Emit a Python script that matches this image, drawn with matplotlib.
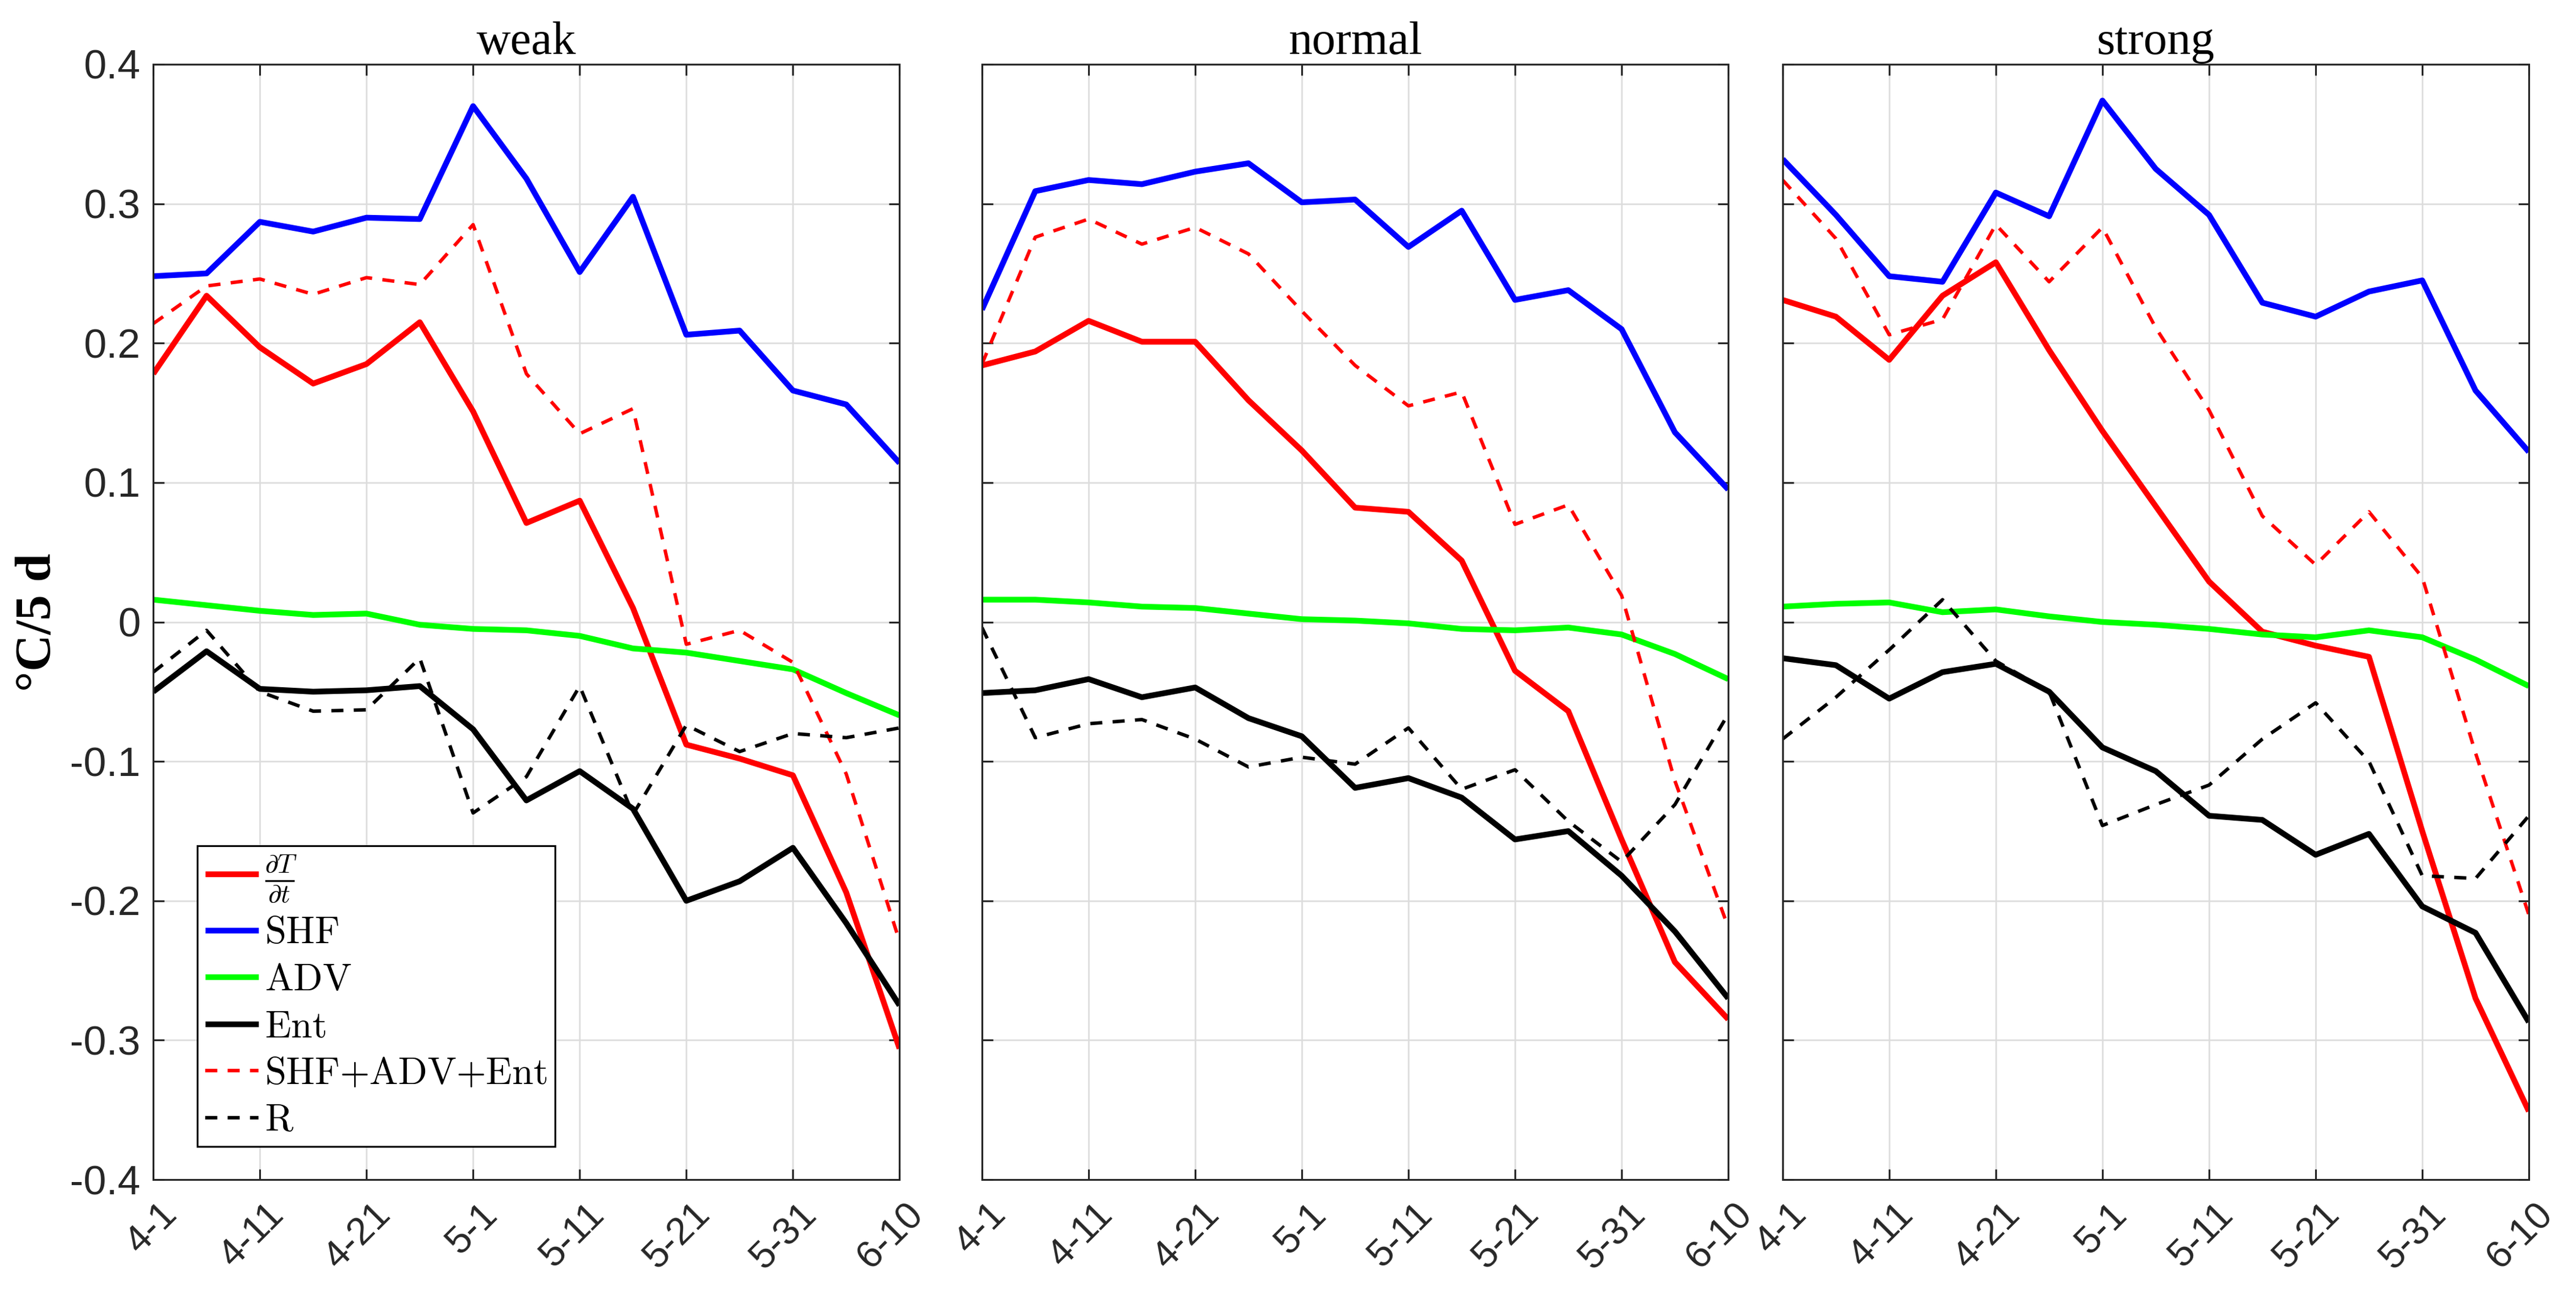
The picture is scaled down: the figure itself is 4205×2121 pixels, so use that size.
import numpy as np
import matplotlib.pyplot as plt
from matplotlib.transforms import ScaledTranslation

# dates of the 5-day means
dates = ['4-1', '4-6', '4-11', '4-16', '4-21', '4-26', '5-1', '5-6',
         '5-11', '5-16', '5-21', '5-26', '5-31', '6-5', '6-10']

panels = ['weak', 'normal', 'strong']

# ---------------- weak ----------------
weak_dTdt = [0.178, 0.234, 0.197, 0.171, 0.185, 0.215, 0.151, 0.071, 0.087, 0.010,
             -0.088, -0.098, -0.110, -0.194, -0.306]
weak_shf = [0.248, 0.250, 0.287, 0.280, 0.290, 0.289, 0.370, 0.318, 0.251, 0.305,
            0.206, 0.209, 0.166, 0.156, 0.114]
weak_adv = [0.016, 0.012, 0.008, 0.005, 0.006, -0.002, -0.005, -0.006, -0.010, -0.019,
            -0.022, -0.028, -0.034, -0.051, -0.067]
weak_ent = [-0.050, -0.021, -0.048, -0.050, -0.049, -0.046, -0.077, -0.128, -0.107, -0.134,
            -0.200, -0.186, -0.162, -0.216, -0.275]
weak_sum = [0.214, 0.241, 0.246, 0.235, 0.247, 0.242, 0.285, 0.178, 0.135, 0.153,
            -0.016, -0.006, -0.029, -0.109, -0.229]
weak_r = [-0.036, -0.006, -0.050, -0.064, -0.063, -0.026, -0.137, -0.111, -0.046, -0.138,
          -0.074, -0.093, -0.080, -0.083, -0.076]

# ---------------- normal ----------------
normal_dTdt = [0.184, 0.194, 0.216, 0.201, 0.201, 0.159, 0.123, 0.082, 0.079, 0.044,
               -0.035, -0.064, -0.156, -0.244, -0.285]
normal_shf = [0.224, 0.309, 0.317, 0.314, 0.323, 0.329, 0.301, 0.303, 0.269, 0.295,
              0.231, 0.238, 0.210, 0.136, 0.095]
normal_adv = [0.016, 0.016, 0.014, 0.011, 0.010, 0.006, 0.002, 0.001, -0.001, -0.005,
              -0.006, -0.004, -0.009, -0.023, -0.041]
normal_ent = [-0.051, -0.049, -0.041, -0.054, -0.047, -0.069, -0.082, -0.119, -0.112, -0.126,
              -0.156, -0.150, -0.182, -0.222, -0.270]
normal_sum = [0.185, 0.276, 0.289, 0.271, 0.283, 0.264, 0.223, 0.184, 0.155, 0.165,
              0.070, 0.084, 0.019, -0.114, -0.219]
normal_r = [-0.004, -0.083, -0.073, -0.070, -0.084, -0.104, -0.097, -0.102, -0.076, -0.120,
            -0.106, -0.143, -0.172, -0.131, -0.066]

# ---------------- strong ----------------
strong_dTdt = [0.231, 0.219, 0.188, 0.234, 0.258, 0.195, 0.137, 0.083, 0.029, -0.007,
               -0.017, -0.025, -0.150, -0.270, -0.351]
strong_shf = [0.332, 0.292, 0.248, 0.244, 0.308, 0.291, 0.374, 0.325, 0.292, 0.229,
              0.219, 0.237, 0.245, 0.166, 0.122]
strong_adv = [0.011, 0.013, 0.014, 0.007, 0.009, 0.004, 0.000, -0.002, -0.005, -0.009,
              -0.011, -0.006, -0.011, -0.027, -0.046]
strong_ent = [-0.026, -0.031, -0.055, -0.036, -0.030, -0.050, -0.090, -0.107, -0.139, -0.142,
              -0.167, -0.152, -0.204, -0.223, -0.287]
strong_sum = [0.317, 0.275, 0.206, 0.217, 0.285, 0.244, 0.283, 0.211, 0.152, 0.076,
              0.041, 0.079, 0.032, -0.094, -0.210]
strong_r = [-0.084, -0.054, -0.020, 0.016, -0.028, -0.050, -0.146, -0.131, -0.117, -0.084,
            -0.058, -0.100, -0.182, -0.184, -0.139]

data = {
    'weak': [weak_dTdt, weak_shf, weak_adv, weak_ent, weak_sum, weak_r],
    'normal': [normal_dTdt, normal_shf, normal_adv, normal_ent, normal_sum, normal_r],
    'strong': [strong_dTdt, strong_shf, strong_adv, strong_ent, strong_sum, strong_r],
}

labels = [r'$\frac{\partial T}{\partial t}$', r'$\mathrm{SHF}$', r'$\mathrm{ADV}$',
          r'$\mathrm{Ent}$', r'$\mathrm{SHF{+}ADV{+}Ent}$', r'$\mathrm{R}$']
colors = ['#ff0000', '#0000ff', '#00ff00', '#000000', '#ff0000', '#000000']
styles = ['-', '-', '-', '-', '--', '--']
widths = [2.25, 2.25, 2.25, 2.25, 1.35, 1.35]

yticks = [-0.4, -0.3, -0.2, -0.1, 0, 0.1, 0.2, 0.3, 0.4]
ytick_labels = ['-0.4', '-0.3', '-0.2', '-0.1', '0', '0.1', '0.2', '0.3', '0.4']

plt.rcParams['mathtext.fontset'] = 'cm'
plt.rcParams['font.family'] = ['Liberation Sans', 'DejaVu Sans']

fig = plt.figure(figsize=(4205 / 300, 2121 / 300), dpi=300)

lefts = [0.0595, 0.3812, 0.692]
width = 0.2897
bottom = 0.0919
height = 0.8586

x = np.arange(len(dates))
tick_idx = x[::2]
grey = '#262626'
shift = ScaledTranslation(0.1, 0, fig.dpi_scale_trans)

for k, name in enumerate(panels):
    ax = fig.add_axes([lefts[k], bottom, width, height])
    for series, lab, c, ls, lw in zip(data[name], labels, colors, styles, widths):
        line, = ax.plot(x, series, color=c, linestyle=ls, linewidth=lw, label=lab,
                        solid_capstyle='butt')
        if ls == '--':
            line.set_dashes((3.5, 3.0))

    ax.set_xlim(0, len(dates) - 1)
    ax.set_ylim(-0.4, 0.4)
    ax.set_xticks(tick_idx)
    ax.set_xticklabels([dates[i] for i in tick_idx], rotation=45, ha='right',
                       va='center', rotation_mode='anchor', fontsize=15, color=grey)
    ax.set_yticks(yticks)
    if k == 0:
        ax.set_yticklabels(ytick_labels, fontsize=16, color=grey)
    else:
        ax.set_yticklabels([])
    ax.tick_params(axis='both', direction='in', length=4.2, width=0.7,
                   top=True, right=True, color=grey)
    ax.tick_params(axis='x', pad=11.5)
    ax.tick_params(axis='y', pad=5)
    for lab in ax.get_xticklabels():
        lab.set_transform(lab.get_transform() + shift)
    ax.grid(True, color='#dcdcdc', linewidth=0.6)
    ax.set_axisbelow(True)
    for sp in ax.spines.values():
        sp.set_linewidth(0.7)
        sp.set_color(grey)
    ax.set_title(name, fontsize=18.5, family='Liberation Serif', pad=4)

    if k == 0:
        leg = ax.legend(loc='lower left', bbox_to_anchor=(0.0592, 0.0297), fontsize=15,
                        handlelength=1.4, handletextpad=0.16, labelspacing=0.28,
                        borderpad=0.2, borderaxespad=0, fancybox=False, framealpha=1,
                        edgecolor='black')
        leg.get_frame().set_linewidth(0.7)

fig.text(0.0147, 0.521, '°C/5 d', rotation=90, va='center', ha='center',
         fontsize=20, fontweight='bold', family='Liberation Serif')

fig.savefig('out.png', dpi=300)
